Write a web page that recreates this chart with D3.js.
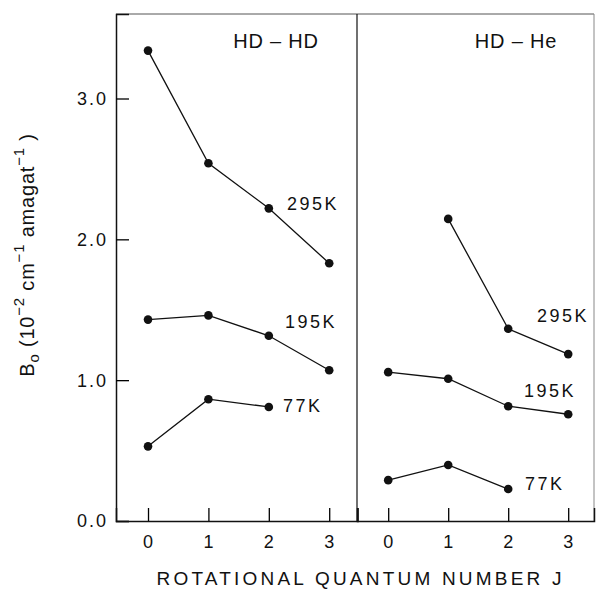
<!DOCTYPE html>
<html>
<head>
<meta charset="utf-8">
<script src="https://cdn.jsdelivr.net/npm/d3@7"></script>
<style>
  body { margin: 0; background: #fff; }
  text { font-family: "Liberation Sans", Arial, sans-serif; fill: #111; }
</style>
</head>
<body>
<div id="chart"></div>
<script>
// rotational quantum number J
const J = [0, 1, 2, 3];
const yTicks = [0, 1, 2, 3];

// B0 values, 10^-2 cm^-1 amagat^-1
const hdhd295 = [3.34, 2.54, 2.22, 1.83];
const hdhd195 = [1.43, 1.46, 1.315, 1.07];
const hdhd77 = [0.53, 0.865, 0.81, null];
const hdhe295 = [null, 2.145, 1.365, 1.185];
const hdhe195 = [1.057, 1.01, 0.815, 0.758];
const hdhe77 = [0.29, 0.398, 0.227, null];

const temps = ["295K", "195K", "77K"];

const svg = d3.select("#chart").append("svg")
    .attr("width", 596)
    .attr("height", 590);

const plotTop = 14, plotBottom = 521;
const y = d3.scaleLinear().domain([0, 3.6]).range([plotBottom, plotTop]);

const panels = [
    { name: "HD \u2013 HD", series: [hdhd295, hdhd195, hdhd77],
      x: d3.scaleLinear().domain([-0.53, 3.47]).range([116, 357.6]),
      labelPos: [[287, 210], [285, 328], [283, 412]], titleX: 276 },
    { name: "HD \u2013 He", series: [hdhe295, hdhe195, hdhe77],
      x: d3.scaleLinear().domain([-0.52, 3.43]).range([357, 594]),
      labelPos: [[537, 322], [524, 397], [525, 490]], titleX: 516 }
];

// frame
svg.append("line").attr("x1", 116).attr("x2", 594).attr("y1", plotTop).attr("y2", plotTop)
    .attr("stroke", "#555").attr("stroke-width", 1);
svg.append("line").attr("x1", 594).attr("x2", 594).attr("y1", plotTop).attr("y2", plotBottom)
    .attr("stroke", "#888").attr("stroke-width", 1);
svg.append("line").attr("x1", 357).attr("x2", 357).attr("y1", plotTop).attr("y2", plotBottom)
    .attr("stroke", "#111").attr("stroke-width", 1.2);

// y axis, ticks inside
const yAxis = svg.append("g").attr("transform", "translate(116,0)")
    .call(d3.axisRight(y).tickValues(yTicks).tickSize(13).tickFormat(""));
yAxis.select(".domain").attr("stroke", "#111").attr("stroke-width", 1.5);
yAxis.selectAll(".tick line").attr("stroke-width", 1.3);

svg.append("g").selectAll("text")
    .data(yTicks)
    .enter().append("text")
    .attr("x", 108)
    .attr("y", d => y(d))
    .attr("dy", "0.36em")
    .attr("text-anchor", "end")
    .attr("font-size", 18)
    .attr("letter-spacing", 2)
    .text(d => d3.format(".1f")(d));

panels.forEach(function(p) {
    // x axis, ticks pointing up
    const xAxis = svg.append("g").attr("transform", `translate(0,${plotBottom})`)
        .call(d3.axisTop(p.x).tickValues(J).tickSize(13).tickFormat(""));
    xAxis.select(".domain").attr("stroke", "#111").attr("stroke-width", 1.5);
    xAxis.selectAll(".tick line").attr("stroke-width", 1.3);

    svg.append("g").selectAll("text")
        .data(J)
        .enter().append("text")
        .attr("x", d => p.x(d))
        .attr("y", 548)
        .attr("text-anchor", "middle")
        .attr("font-size", 18)
        .text(d => d);

    svg.append("text")
        .attr("x", p.titleX)
        .attr("y", 48)
        .attr("text-anchor", "middle")
        .attr("font-size", 20)
        .attr("letter-spacing", 0.8)
        .text(p.name);

    const line = d3.line()
        .defined(d => d != null)
        .x((d, i) => p.x(J[i]))
        .y(d => y(d));

    p.series.forEach(function(vals, k) {
        svg.append("path")
            .attr("d", line(vals))
            .attr("fill", "none")
            .attr("stroke", "#111")
            .attr("stroke-width", 1.3);

        svg.append("g").selectAll("circle")
            .data(vals.map((v, i) => [J[i], v]).filter(d => d[1] != null))
            .enter().append("circle")
            .attr("cx", d => p.x(d[0]))
            .attr("cy", d => y(d[1]))
            .attr("r", 4.3)
            .attr("fill", "#111");

        svg.append("text")
            .attr("x", p.labelPos[k][0])
            .attr("y", p.labelPos[k][1])
            .attr("font-size", 18)
            .attr("letter-spacing", 2.5)
            .text(temps[k]);
    });
});

// axis titles
svg.append("text")
    .attr("x", 359)
    .attr("y", 585)
    .attr("text-anchor", "middle")
    .attr("font-size", 19)
    .attr("textLength", 405)
    .attr("lengthAdjust", "spacing")
    .text("ROTATIONAL QUANTUM NUMBER J");

const yTitle = svg.append("text")
    .attr("transform", "translate(34,255) rotate(-90)")
    .attr("text-anchor", "middle")
    .attr("font-size", 20)
    .attr("letter-spacing", 0.8);
yTitle.append("tspan").text("B");
yTitle.append("tspan").attr("font-size", 15).attr("dy", 5).text("o");
yTitle.append("tspan").attr("dy", -5).text("  (10");
yTitle.append("tspan").attr("font-size", 15).attr("dy", -10).text("\u22122");
yTitle.append("tspan").attr("dy", 10).text(" cm");
yTitle.append("tspan").attr("font-size", 15).attr("dy", -10).text("\u22121");
yTitle.append("tspan").attr("dy", 10).text(" amagat");
yTitle.append("tspan").attr("font-size", 15).attr("dy", -10).text("\u22121");
yTitle.append("tspan").attr("dy", 10).text(" )");
</script>
</body>
</html>
